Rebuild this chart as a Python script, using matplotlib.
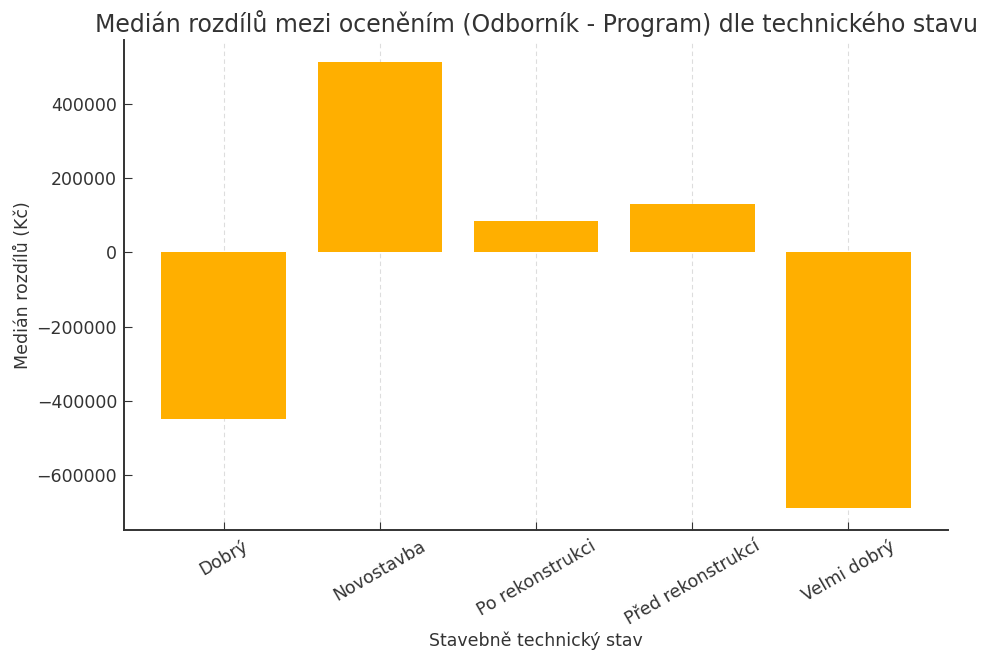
import matplotlib.pyplot as plt
import numpy as np

# technical state categories and median difference (expert - program), CZK
stavy = ['Dobrý', 'Novostavba', 'Po rekonstrukci', 'Před rekonstrukcí', 'Velmi dobrý']
median_rozdil = [-449000, 513500, 84000, 130000, -689000]

plt.rcParams['font.family'] = 'DejaVu Sans'
plt.rcParams['text.color'] = '#333333'
plt.rcParams['axes.labelcolor'] = '#333333'
plt.rcParams['xtick.color'] = '#333333'
plt.rcParams['ytick.color'] = '#333333'

fig, ax = plt.subplots(figsize=(9.86, 6.63), dpi=100)
fig.subplots_adjust(left=0.1258, right=0.9615, top=0.9397, bottom=0.2006)

x = np.arange(len(stavy))
ax.bar(x, median_rozdil, width=0.8, color='#FFAF00', zorder=2)

ax.set_xticks(x)
ax.set_xticklabels(stavy, rotation=30, fontsize=12.5)
ax.tick_params(axis='both', direction='in', length=6, labelsize=12.5, pad=5)
ax.ticklabel_format(axis='y', style='plain')

ax.grid(axis='x', linestyle=(0, (4, 3)), color='#dddddd', linewidth=0.8, zorder=0)
ax.set_axisbelow(True)

for s in ['top', 'right']:
    ax.spines[s].set_visible(False)
for s in ['left', 'bottom']:
    ax.spines[s].set_color('#333333')
    ax.spines[s].set_linewidth(1.4)

ax.set_title('Medián rozdílů mezi oceněním (Odborník - Program) dle technického stavu', fontsize=17)
ax.set_xlabel('Stavebně technický stav', fontsize=12.5, labelpad=2)
ax.set_ylabel('Medián rozdílů (Kč)', fontsize=12.5, labelpad=3)

plt.savefig('out.png')
